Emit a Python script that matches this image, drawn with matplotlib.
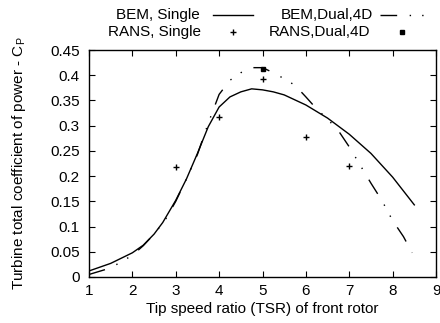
import matplotlib
matplotlib.use("Agg")
import matplotlib.pyplot as plt
from matplotlib.lines import Line2D

plt.rcParams['font.family'] = ['Liberation Sans', 'DejaVu Sans']
plt.rcParams['font.size'] = 11

# BEM, single rotor
tsr_single = [1, 1.5, 2, 2.25, 2.5, 2.7, 3, 3.25, 3.5, 3.75, 4, 4.25, 4.5, 4.75,
              5, 5.25, 5.5, 6, 6.5, 7, 7.5, 8, 8.5]
cp_single = [0.012, 0.027, 0.048, 0.063, 0.085, 0.108, 0.152, 0.195, 0.245, 0.298,
             0.337, 0.357, 0.367, 0.373, 0.371, 0.367, 0.361, 0.341, 0.315, 0.283,
             0.245, 0.198, 0.143]

# BEM, dual rotor, 4D spacing
tsr_dual = [1, 1.5, 2, 2.25, 2.5, 2.75, 3, 3.25, 3.5, 3.75, 4, 4.25, 4.5, 4.75, 5,
            5.25, 5.5, 5.75, 6, 6.25, 6.5, 6.75, 7, 7.25, 7.5, 7.75, 8, 8.25, 8.45]
cp_dual = [0.005, 0.018, 0.043, 0.062, 0.085, 0.112, 0.150, 0.195, 0.243, 0.305,
           0.362, 0.390, 0.405, 0.415, 0.415, 0.405, 0.393, 0.380, 0.357, 0.333,
           0.313, 0.290, 0.258, 0.222, 0.186, 0.152, 0.112, 0.080, 0.048]

# RANS results
tsr_rans_single = [3, 4, 5, 6, 7]
cp_rans_single = [0.218, 0.318, 0.392, 0.278, 0.220]
tsr_rans_dual = [5]
cp_rans_dual = [0.412]

labels = ['BEM, Single', 'RANS, Single', 'BEM,Dual,4D', 'RANS,Dual,4D']
xticks = [1, 2, 3, 4, 5, 6, 7, 8, 9]
yticks = [0, 0.05, 0.1, 0.15, 0.2, 0.25, 0.3, 0.35, 0.4, 0.45]
ytick_labels = ['0', '0.05', '0.1', '0.15', '0.2', '0.25', '0.3', '0.35', '0.4', '0.45']

W, H = 440, 323
fig = plt.figure(figsize=(W / 100, H / 100), dpi=100)
ax = fig.add_axes([89 / W, 1 - 277 / H, (436 - 89) / W, (277 - 50) / H])

dash_pat = (12, 9, 1, 8, 1, 9)
style = {
    'single': dict(color='black', lw=1.0),
    'dual': dict(color='black', lw=1.0, dashes=dash_pat),
    'rs': dict(linestyle='none', marker='+', color='black', ms=4, mew=1.0),
    'rd': dict(linestyle='none', marker='s', color='black', ms=2.5),
}

ax.plot(tsr_single, cp_single, **style['single'])
ax.plot(tsr_dual, cp_dual, **style['dual'])
ax.plot(tsr_rans_single, cp_rans_single, **style['rs'])
ax.plot(tsr_rans_dual, cp_rans_dual, **style['rd'])

ax.set_xlim(1, 9)
ax.set_ylim(0, 0.45)
ax.set_xticks(xticks)
ax.set_yticks(yticks)
ax.set_yticklabels(ytick_labels)
ax.tick_params(direction='in', top=True, right=True, length=4, width=0.8)
ax.tick_params(axis='y', pad=6.5)
ax.tick_params(axis='x', pad=5)
for s in ax.spines.values():
    s.set_linewidth(1.0)

ax.set_xlabel('Tip speed ratio (TSR) of front rotor', labelpad=3)
ax.set_ylabel('Turbine total coefficient of power - C$_\\mathregular{P}$', labelpad=16)

# gnuplot-style key: text right-aligned, sample to its right
def key_entry(text_x, y, label, sample, x0, x1):
    yf = 1 - y / H
    fig.text(text_x / W, yf, label, ha='right', va='center')
    if sample in ('single', 'dual'):
        fig.add_artist(Line2D([x0 / W, x1 / W], [yf, yf], **style[sample]))
    else:
        xm = (x0 + x1) / 2 / W
        fig.add_artist(Line2D([xm], [yf], **style[sample]))

key_entry(200, 15, labels[0], 'single', 213, 253)
key_entry(201, 32, labels[1], 'rs', 213, 253)
key_entry(373, 15, labels[2], 'dual', 380, 425)
key_entry(370, 32, labels[3], 'rd', 382, 422)

fig.savefig('out.png', dpi=100)
